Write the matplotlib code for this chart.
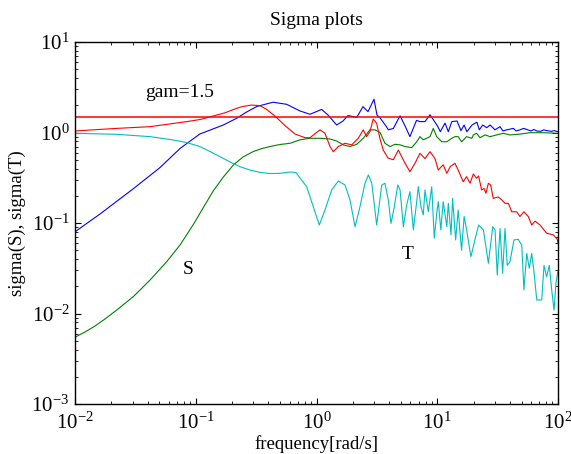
import matplotlib
matplotlib.use("Agg")
import matplotlib.pyplot as plt
from matplotlib.ticker import LogLocator, NullFormatter

plt.rcParams['font.family'] = ['Liberation Serif', 'DejaVu Serif']
plt.rcParams['mathtext.fontset'] = 'stix'

gam = 1.5

# sigma(S), max singular value (blue)
s_max_w = [0.01, 0.0161, 0.0302, 0.0506, 0.0741, 0.108, 0.169, 0.218, 0.264, 0.321,
           0.436, 0.566, 0.730, 0.883, 1.104, 1.245, 1.469, 1.658, 1.824, 2.153,
           2.427, 2.670, 2.992, 3.17, 3.36, 3.76, 3.94, 4.33, 4.92, 5.41,
           5.94, 6.73, 7.19, 7.92, 8.71, 10.05, 10.6, 11.6, 12.35, 13.2,
           14.6, 15.7, 16.7, 17.6, 19.4, 21.3, 22.3, 23.8, 25.7, 27.4,
           30.1, 33.1, 35, 37.6, 42.7, 45, 48.4, 52, 55.1, 60,
           63, 66.7, 72, 76, 80.5, 88, 93, 100]
s_max_v = [0.080, 0.1256, 0.2375, 0.410, 0.666, 0.962, 1.21, 1.435, 1.685, 1.94,
           2.16, 2.05, 1.73, 1.59, 1.80, 1.56, 1.21, 1.34, 1.54, 1.47,
           1.93, 1.70, 2.33, 1.56, 1.45, 1.18, 1.07, 1.11, 1.53, 1.18,
           0.90, 1.36, 1.32, 1.32, 1.57, 1.18, 1.02, 1.27, 1.02, 1.32,
           1.34, 1.05, 1.21, 1.02, 1.21, 1.30, 1.07, 1.21, 1.13, 1.21,
           1.07, 1.16, 1.04, 1.07, 1.11, 1.04, 1.07, 1.11, 1.08, 1.04,
           1.08, 1.04, 1.03, 1.07, 1.05, 1.03, 1.05, 1.02]

# sigma(S), min singular value (green)
s_min_w = [0.01, 0.0121, 0.01466, 0.0177, 0.0221, 0.0304, 0.0418, 0.0574, 0.0741, 0.0949,
           0.1216, 0.1396, 0.168, 0.205, 0.246, 0.300, 0.354, 0.412, 0.499, 0.604,
           0.730, 0.883, 1.069, 1.294, 1.469, 1.667, 1.894, 2.153, 2.44, 2.77,
           3.05, 3.36, 3.69, 4.06, 4.47, 4.92, 5.41, 6.14, 6.76, 7.19,
           7.66, 8.71, 9.27, 9.9, 10.9, 12.0, 13.2, 14.0, 14.9, 15.9,
           17.5, 19.3, 19.9, 21.2, 22.6, 24.9, 27.4, 31.0, 35.2, 40.0,
           48.4, 58.6, 75.5, 100]
s_min_v = [0.00546, 0.00625, 0.00728, 0.00869, 0.0109, 0.01535, 0.0234, 0.0373, 0.0571, 0.095,
           0.166, 0.226, 0.318, 0.438, 0.536, 0.617, 0.665, 0.70, 0.737, 0.76,
           0.83, 0.863, 0.863, 0.847, 0.806, 0.73, 0.70, 0.741, 0.863, 1.07,
           1.07, 1.0, 0.76, 0.70, 0.741, 0.73, 0.70, 0.68, 0.79, 0.90,
           0.83, 0.90, 1.11, 0.90, 0.79, 0.79, 0.863, 0.90, 0.90, 0.79,
           0.90, 0.863, 0.94, 0.98, 0.876, 0.94, 0.90, 0.94, 0.98, 0.94,
           0.96, 0.995, 0.995, 0.98]

# sigma(T), max singular value (red)
t_max_w = [0.01, 0.0221, 0.0418, 0.0846, 0.108, 0.139, 0.1746, 0.218, 0.246, 0.290,
           0.340, 0.382, 0.453, 0.549, 0.664, 0.803, 0.883, 1.069, 1.175, 1.294,
           1.377, 1.516, 1.722, 1.957, 2.22, 2.44, 2.60, 2.77, 2.95, 3.15,
           3.36, 3.57, 3.91, 4.33, 4.76, 5.08, 5.41, 5.94, 6.54, 7.19,
           7.92, 8.71, 9.58, 10.2, 11.2, 12.0, 12.8, 14.0, 14.9, 16.4,
           17.5, 18.7, 19.9, 21.2, 22.0, 23.3, 24.4, 25.3, 26.5, 27.7,
           29.1, 32.0, 34.2, 36.4, 38.8, 41.4, 45.5, 48.4, 52.2, 56.7,
           60.6, 64.5, 71.0, 80.5, 91.5, 98.7, 100]
t_max_v = [1.04, 1.11, 1.16, 1.32, 1.39, 1.52, 1.65, 1.85, 1.94, 2.01,
           1.98, 1.82, 1.52, 1.19, 0.962, 0.876, 0.876, 1.07, 0.98, 0.70,
           0.614, 0.70, 0.76, 0.73, 0.865, 1.07, 0.90, 1.02, 1.41, 1.26,
           0.846, 0.64, 0.522, 0.50, 0.64, 0.54, 0.457, 0.369, 0.457, 0.589,
           0.515, 0.614, 0.515, 0.385, 0.44, 0.354, 0.419, 0.457, 0.385, 0.286,
           0.325, 0.275, 0.348, 0.312, 0.331, 0.232, 0.241, 0.213, 0.275, 0.263,
           0.187, 0.194, 0.180, 0.165, 0.165, 0.133, 0.133, 0.118, 0.133, 0.118,
           0.095, 0.105, 0.095, 0.077, 0.074, 0.066, 0.060]

# sigma(T), min singular value (cyan)
t_min_w = [0.01, 0.0221, 0.0418, 0.0652, 0.0841, 0.108, 0.131, 0.159, 0.1923, 0.2323,
           0.281, 0.340, 0.412, 0.499, 0.604, 0.676, 0.730, 0.829, 0.941, 1.055,
           1.175, 1.336, 1.516, 1.722, 1.894, 2.085, 2.29, 2.52, 2.69, 2.87,
           3.15, 3.47, 3.69, 3.93, 4.14, 4.41, 4.71, 4.92, 5.24, 5.58,
           5.94, 6.34, 6.76, 6.97, 7.33, 7.66, 7.92, 8.43, 9.0, 9.45,
           9.9, 10.2, 10.7, 11.2, 12.0, 12.35, 13.0, 13.4, 14.2, 14.9,
           15.9, 16.7, 17.5, 19.0, 20.5, 22.0, 24.1, 25.3, 26.5, 28.8,
           30.1, 31.4, 33.1, 34.8, 36.4, 38.0, 40.0, 43.2, 46.9, 50.1,
           52.2, 55.1, 57.8, 60.6, 63.2, 66.7, 73.3, 76.6, 80.5, 84.7,
           88.7, 92.7, 96.2, 100]
t_min_v = [0.98, 0.955, 0.90, 0.826, 0.775, 0.700, 0.617, 0.54, 0.472, 0.419,
           0.385, 0.363, 0.352, 0.354, 0.366, 0.361, 0.315, 0.252, 0.151, 0.095,
           0.139, 0.232, 0.291, 0.263, 0.180, 0.091, 0.151, 0.275, 0.34, 0.275,
           0.095, 0.263, 0.275, 0.180, 0.099, 0.151, 0.263, 0.232, 0.091, 0.158,
           0.222, 0.084, 0.172, 0.252, 0.151, 0.123, 0.232, 0.133, 0.252, 0.068,
           0.128, 0.172, 0.084, 0.172, 0.091, 0.165, 0.074, 0.187, 0.065, 0.139,
           0.050, 0.118, 0.084, 0.0424, 0.065, 0.095, 0.084, 0.0547, 0.0359, 0.091,
           0.084, 0.0266, 0.087, 0.0278, 0.087, 0.034, 0.0373, 0.065, 0.066, 0.057,
           0.0182, 0.0462, 0.0316, 0.0462, 0.029, 0.0141, 0.0141, 0.034, 0.0255, 0.034,
           0.0182, 0.0109, 0.0216, 0.030]

fig = plt.figure(figsize=(5.71, 4.54), dpi=100)
ax = fig.add_axes([75/571, 1 - 404/454, (558-75)/571, (404-42)/454])

lw = 0.8
ax.loglog(s_max_w, s_max_v, color=(0, 0, 1), lw=lw)
ax.loglog(s_min_w, s_min_v, color=(0, 0.5, 0), lw=lw)
ax.loglog(t_max_w, t_max_v, color=(1, 0, 0), lw=lw)
ax.loglog(t_min_w, t_min_v, color=(0, 0.75, 0.75), lw=lw)
ax.axhline(gam, color=(1, 0, 0), lw=1.1)

ax.set_xlim(1e-2, 1e2)
ax.set_ylim(1e-3, 1e1)
ax.xaxis.set_major_locator(LogLocator(base=10, numticks=10))
ax.yaxis.set_major_locator(LogLocator(base=10, numticks=10))
ax.xaxis.set_minor_locator(LogLocator(base=10, subs=range(2, 10), numticks=20))
ax.yaxis.set_minor_locator(LogLocator(base=10, subs=range(2, 10), numticks=20))
ax.xaxis.set_minor_formatter(NullFormatter())
ax.yaxis.set_minor_formatter(NullFormatter())

ax.tick_params(which='both', direction='in', top=True, right=True, labelsize=15)
ax.tick_params(which='major', length=4, width=0.8)
ax.tick_params(which='minor', length=2, width=0.6)
for sp in ax.spines.values():
    sp.set_linewidth(1.0)
ax.tick_params(axis='x', pad=6)
ax.tick_params(axis='y', pad=4)

ax.set_title('Sigma plots', fontsize=14, pad=12)
ax.set_xlabel('frequency[rad/s]', fontsize=13.5, labelpad=1)
ax.set_ylabel('sigma(S), sigma(T)', fontsize=13.5, labelpad=4)

ax.text(0.038, 2.45, 'gam=1.5', fontsize=14, ha='left', va='baseline')
ax.text(0.0863, 0.0273, 'S', fontsize=14, ha='center', va='baseline')
ax.text(5.73, 0.040, 'T', fontsize=14, ha='center', va='baseline')

fig.savefig('out.png', dpi=100)
